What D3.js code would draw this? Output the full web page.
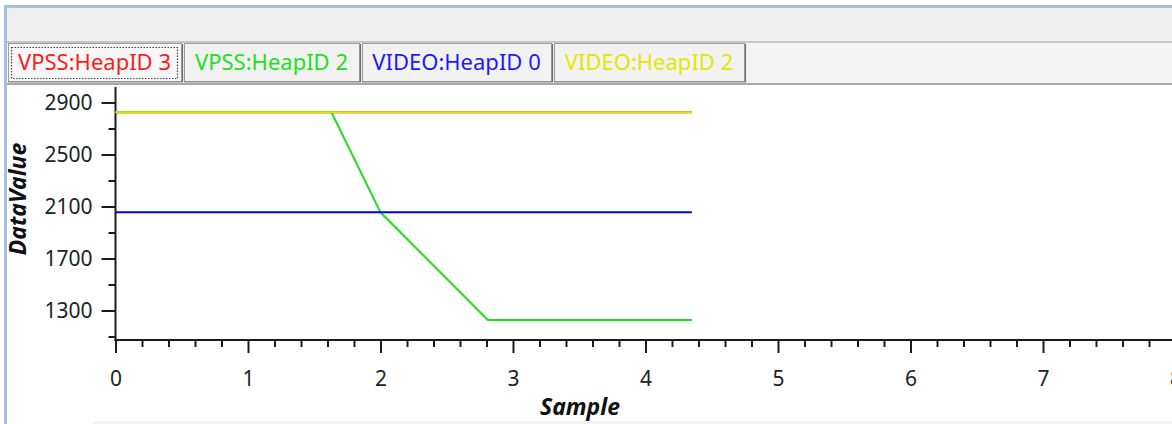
<!DOCTYPE html>
<html><head><meta charset="utf-8">
<script src="https://cdn.jsdelivr.net/npm/d3@7"></script>
<style>
html,body{margin:0;padding:0;background:#fff;overflow:hidden;}
svg{display:block;}
</style></head>
<body>
<svg id="chart" width="1172" height="424"></svg>
<script>
// ---- data ----
const seriesNames = ["VPSS:HeapID 3", "VPSS:HeapID 2", "VIDEO:HeapID 0", "VIDEO:HeapID 2"];
const seriesColors = ["#ff1a1a", "#1ee01e", "#1a1aff", "#e6e600"];
const redSamples = [0, 4.35];
const redValues = [2825, 2825];
const greenSamples = [0, 1.63, 2.0, 2.81, 4.35];
const greenValues = [2825, 2825, 2055, 1227, 1227];
const blueSamples = [0, 4.35];
const blueValues = [2055, 2055];
const yellowSamples = [0, 4.35];
const yellowValues = [2825, 2825];
const xTickValues = [0, 1, 2, 3, 4, 5, 6, 7, 8];
const yTickValues = [1300, 1700, 2100, 2500, 2900];
const xDomain = [0, 8];
const yDomain = [1073, 3019];
const xTitle = "Sample";
const yTitle = "DataValue";

const svg = d3.select("#chart");
const W = 1172, H = 424;

// ---- window chrome ----
svg.append("rect").attr("x", 7).attr("y", 8).attr("width", W - 7).attr("height", 33).attr("fill", "#efefef");
svg.append("rect").attr("x", 7).attr("y", 41).attr("width", W - 7).attr("height", 2).attr("fill", "#c6c6c6");
svg.append("rect").attr("x", 7).attr("y", 43).attr("width", W - 7).attr("height", 40).attr("fill", "#f4f4f4");
svg.append("rect").attr("x", 7).attr("y", 83).attr("width", W - 7).attr("height", 2).attr("fill", "#a9a9a9");
svg.append("rect").attr("x", 93).attr("y", 421).attr("width", W - 93).attr("height", 3).attr("fill", "#f2f2f2");
svg.append("rect").attr("x", 4).attr("y", 5).attr("width", W - 4).attr("height", 3).attr("fill", "#a7bfdc");
svg.append("rect").attr("x", 4).attr("y", 5).attr("width", 3).attr("height", H - 5).attr("fill", "#a7bfdc");

// ---- tabs ----
const tabEdges = [8, 183, 361, 553, 746];
const tabs = svg.append("g");
seriesNames.forEach((name, i) => {
  const x0 = tabEdges[i] + (i === 0 ? 0 : 1), x1 = tabEdges[i + 1];
  const g = tabs.append("g");
  g.append("rect").attr("x", x0 + 0.5).attr("y", 43.5).attr("width", x1 - x0 - 2).attr("height", 38)
    .attr("fill", i === 0 ? "#f7f7f7" : "#f2f2f2").attr("stroke", "#9c9c9c").attr("stroke-width", 1);
  g.append("line").attr("x1", x1 - 0.5).attr("x2", x1 - 0.5).attr("y1", 44).attr("y2", 82)
    .attr("stroke", "#6e6e6e").attr("stroke-width", 1.2);
  g.append("line").attr("x1", x0).attr("x2", x1).attr("y1", 82).attr("y2", 82)
    .attr("stroke", "#8a8a8a").attr("stroke-width", 1.2);
  if (i === 0) {
    g.append("rect").attr("x", x0 + 3.5).attr("y", 47.5).attr("width", x1 - x0 - 9).attr("height", 31)
      .attr("fill", "none").attr("stroke", "#444").attr("stroke-width", 1.2).attr("stroke-dasharray", "1.5,1.5");
  }
  g.append("text").attr("x", (x0 + x1) / 2 - 1).attr("y", 70)
    .attr("text-anchor", "middle")
    .attr("font-family", "'Noto Sans', 'Open Sans', sans-serif")
    .attr("font-size", 22)
    .attr("fill", seriesColors[i])
    .text(name);
});

// ---- scales ----
const x = d3.scaleLinear().domain(xDomain).range([115.5, 1175.5]);
const y = d3.scaleLinear().domain(yDomain).range([340, 87]);
const plotBottom = 340, plotLeft = 115.5;

const axisColor = "#1c1c1c";
const fontFam = "'Noto Sans', 'Open Sans', sans-serif";

// x axis
const xMinor = d3.range(0, 8.001, 0.2).filter(v => Math.abs(v - Math.round(v)) > 1e-6);
const xAxisMinor = d3.axisBottom(x).tickValues(xMinor).tickSize(7).tickFormat("");
const xAxisMajor = d3.axisBottom(x).tickValues(xTickValues).tickSize(13).tickPadding(18).tickFormat(d3.format("d"));
const gxm = svg.append("g").attr("transform", `translate(0,${plotBottom})`).call(xAxisMinor);
const gx = svg.append("g").attr("transform", `translate(0,${plotBottom})`).call(xAxisMajor);
[gxm, gx].forEach(g => {
  g.select(".domain").remove();
  g.selectAll(".tick line").attr("stroke", axisColor).attr("stroke-width", 2);
});
gx.selectAll(".tick text").attr("font-family", fontFam).attr("font-size", 21).attr("fill", "#222")
  .attr("dy", "0.71em");
svg.append("line").attr("x1", plotLeft - 1).attr("x2", W).attr("y1", plotBottom).attr("y2", plotBottom)
  .attr("stroke", axisColor).attr("stroke-width", 2);

// y axis
const yMinor = d3.range(1100, 3000, 400);
const yAxisMinor = d3.axisLeft(y).tickValues(yMinor).tickSize(7).tickFormat("");
const yAxisMajor = d3.axisLeft(y).tickValues(yTickValues).tickSize(14).tickPadding(9).tickFormat(d3.format("d"));
const gym = svg.append("g").attr("transform", `translate(${plotLeft},0)`).call(yAxisMinor);
const gy = svg.append("g").attr("transform", `translate(${plotLeft},0)`).call(yAxisMajor);
[gym, gy].forEach(g => {
  g.select(".domain").remove();
  g.selectAll(".tick line").attr("stroke", axisColor).attr("stroke-width", 2);
});
gy.selectAll(".tick text").attr("font-family", fontFam).attr("font-size", 21).attr("fill", "#222");
svg.append("line").attr("x1", plotLeft).attr("x2", plotLeft).attr("y1", 87).attr("y2", plotBottom + 1)
  .attr("stroke", axisColor).attr("stroke-width", 2);

// titles
svg.append("text").attr("x", 580).attr("y", 415).attr("text-anchor", "middle")
  .attr("font-family", fontFam).attr("font-size", 23).attr("font-weight", "bold").attr("font-style", "italic")
  .attr("fill", "#111").text(xTitle);
svg.append("text").attr("transform", "translate(26,199) rotate(-90)").attr("text-anchor", "middle")
  .attr("font-family", fontFam).attr("font-size", 23).attr("font-weight", "bold").attr("font-style", "italic")
  .attr("fill", "#111").text(yTitle);

// ---- lines ----
const line = d3.line().x(d => x(d[0])).y(d => y(d[1]));
const seriesData = [
  d3.zip(redSamples, redValues),
  d3.zip(greenSamples, greenValues),
  d3.zip(blueSamples, blueValues),
  d3.zip(yellowSamples, yellowValues)
];
const lineColors = ["#ff0000", "#1ee01e", "#0000ee", "#e3e300"];
seriesData.forEach((data, i) => {
  svg.append("path").datum(data).attr("d", line)
    .attr("fill", "none").attr("stroke", lineColors[i]).attr("stroke-width", 2);
});
</script>
</body></html>
